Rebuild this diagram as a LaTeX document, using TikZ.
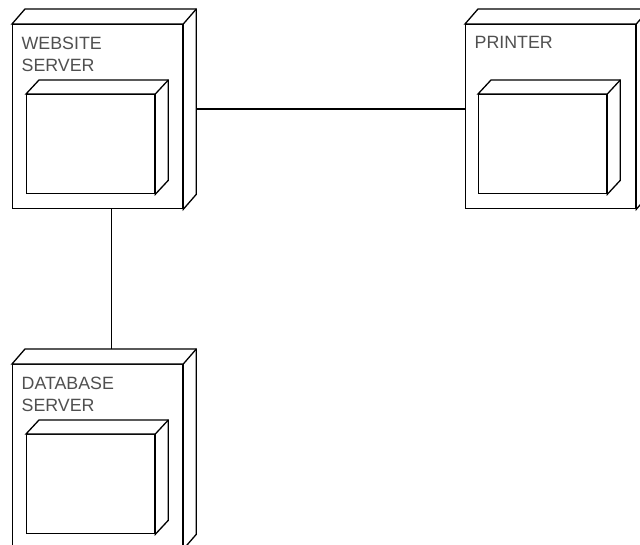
\documentclass[tikz,border=0pt]{standalone}
\usepackage{fontspec}
\setmainfont{Liberation Sans}
\usetikzlibrary{positioning,calc}
\definecolor{LabelGray}{HTML}{505050}

% side and top faces of a 3D box drawn on a front node
\newcommand{\extrude}[3]{%
  \draw[fill=white] (#1.north west) -- ++(#2,-#3) -- ($(#1.north east)+(#2,-#3)$)
    -- ($(#1.south east)+(#2,-#3)$) -- (#1.south east) -- (#1.north east) -- cycle;
  \draw ($(#1.north east)+(#2,-#3)$) -- (#1.north east);
}

\begin{document}
\begin{tikzpicture}[x=1pt, y=-1pt,
	line width=1.3pt,
	face/.style={draw, fill=white, inner sep=0pt},
	outer/.style={face, anchor=north west, minimum width=170pt, minimum height=184pt},
	part/.style={face, minimum width=128pt, minimum height=99pt},
	device/.style={inner sep=0pt, anchor=north west, minimum width=183pt, minimum height=199pt},
	caption/.style={text=LabelGray, align=left, inner sep=0pt, font=\fontsize{17.8}{22}\selectfont},
	link/.style={line width=1.3pt}
]
\useasboundingbox (0,0) rectangle (640,545);
\clip (0,0) rectangle (640,545);

% website server
\node[device] (website) at (12,9) {};
\node[outer] (website-front) at (12,24) {};
\extrude{website-front}{13}{15}
\node[part, below right=70pt and 14pt of website-front.north west] (website-part) {};
\extrude{website-part}{13}{14}
\node[caption, below right=12pt and 9pt of website-front.north west] (website-label) {WEBSITE\\SERVER};

% printer
\node[device] (printer) at (465,9) {};
\node[outer] (printer-front) at (465,24) {};
\extrude{printer-front}{13}{15}
\node[part, below right=70pt and 13pt of printer-front.north west] (printer-part) {};
\extrude{printer-part}{13}{14}
\node[caption, below right=12pt and 9pt of printer-front.north west] (printer-label) {PRINTER};

% database server
\node[device] (database) at (12,349) {};
\node[outer] (database-front) at (12,364) {};
\extrude{database-front}{13}{15}
\node[part, below right=70pt and 14pt of database-front.north west] (database-part) {};
\extrude{database-part}{13}{14}
\node[caption, below right=12pt and 9pt of database-front.north west] (database-label) {DATABASE\\SERVER};

\draw[link] (website.east) -- (printer.west);
\draw[link] ([xshift=7.5pt]website.south) -- ([xshift=7.5pt]database.north);
\end{tikzpicture}
\end{document}
